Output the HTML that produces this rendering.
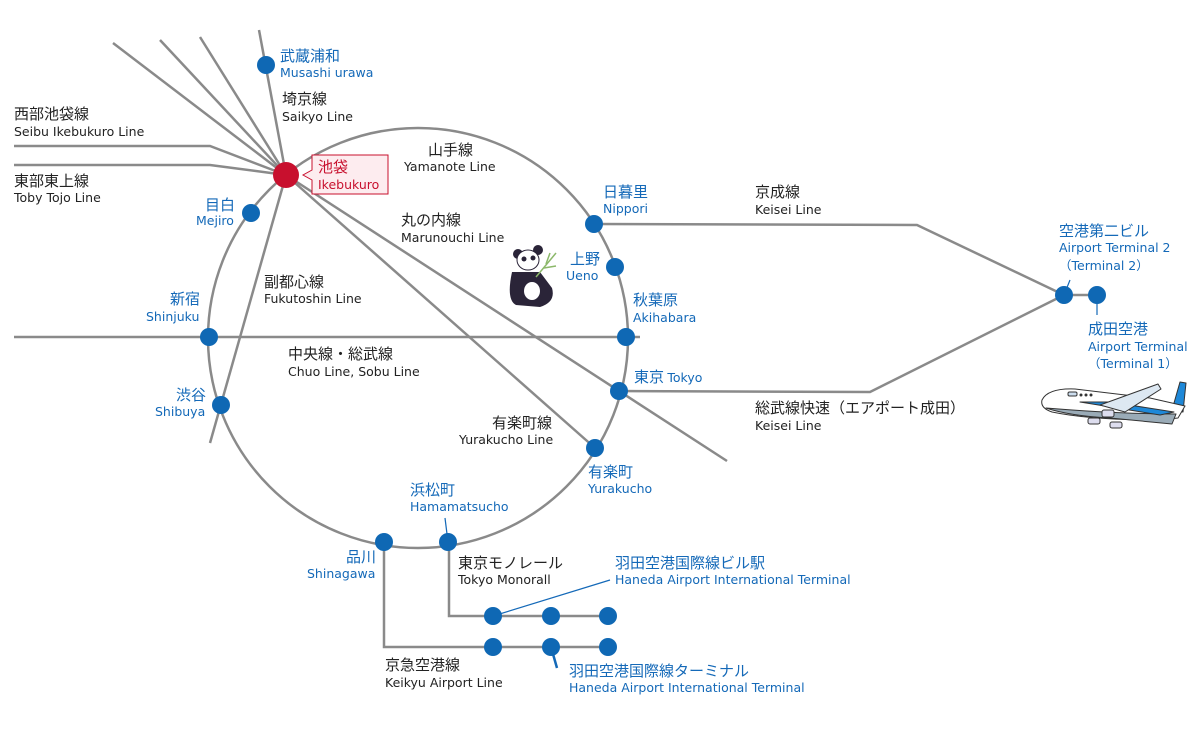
<!DOCTYPE html>
<html><head><meta charset="utf-8"><style>
body{margin:0;background:#fff}
svg text{font-family:"DejaVu Sans","Noto Sans CJK JP",sans-serif}
.j{font-size:15px;fill:#222;font-family:"Noto Sans CJK JP",sans-serif}.e{font-size:12.5px;fill:#222}
.bj{font-size:15px;fill:#1469b8;font-family:"Noto Sans CJK JP",sans-serif}.be{font-size:12.5px;fill:#1469b8}
</style></head><body>
<svg width="1201" height="741" viewBox="0 0 1201 741" xmlns="http://www.w3.org/2000/svg">
<g stroke="#8a8a8a" stroke-width="2.5" fill="none">
<circle cx="418" cy="338" r="210"/>
<line x1="286" y1="175" x2="113" y2="43"/>
<line x1="286" y1="175" x2="160" y2="40"/>
<line x1="286" y1="175" x2="200" y2="37"/>
<line x1="286" y1="175" x2="259" y2="30"/>
<polyline points="14,146 210,146 286,175"/>
<polyline points="14,165 210,165 286,175"/>
<line x1="286" y1="175" x2="210" y2="443"/>
<line x1="286" y1="175" x2="595" y2="448"/>
<line x1="286" y1="175" x2="727" y2="461"/>
<line x1="14" y1="337" x2="640" y2="337"/>
<polyline points="594,224 917,225 1064,295 1097,295"/>
<polyline points="619,391 870,392 1064,295"/>
<polyline points="384,542 384,647 608,647"/>
<polyline points="449,542 449,616 608,616"/>
</g>
<g stroke="#1469b8" stroke-width="1.2">
<line x1="493" y1="616" x2="610" y2="580"/>
<line x1="448" y1="542" x2="445" y2="518"/>
<line x1="1064" y1="295" x2="1070" y2="280"/>
<line x1="1097" y1="295" x2="1097" y2="315"/>
</g>
<line x1="551" y1="647" x2="557" y2="668" stroke="#1469b8" stroke-width="2.5"/>
<g fill="#0f68b4">
<circle cx="266" cy="65" r="9"/><circle cx="251" cy="213" r="9"/><circle cx="209" cy="337" r="9"/>
<circle cx="221" cy="405" r="9"/><circle cx="384" cy="542" r="9"/><circle cx="448" cy="542" r="9"/>
<circle cx="595" cy="448" r="9"/><circle cx="619" cy="391" r="9"/><circle cx="626" cy="337" r="9"/>
<circle cx="615" cy="267" r="9"/><circle cx="594" cy="224" r="9"/>
<circle cx="1064" cy="295" r="9"/><circle cx="1097" cy="295" r="9"/>
<circle cx="493" cy="616" r="9"/><circle cx="551" cy="616" r="9"/><circle cx="608" cy="616" r="9"/>
<circle cx="493" cy="647" r="9"/><circle cx="551" cy="647" r="9"/><circle cx="608" cy="647" r="9"/>
</g>
<circle cx="286" cy="175" r="13" fill="#c8102e"/>
<path d="M312 155 H388 V194 H312 V180 L303 175 L312 170 Z" fill="#fdecef" stroke="#c8102e" stroke-width="1"/>
<text x="318" y="172" style="font-size:15px;fill:#c8102e;font-family:'Noto Sans CJK JP',sans-serif">池袋</text>
<text x="318" y="189" style="font-size:12.5px;fill:#c8102e">Ikebukuro</text>

<text class="bj" x="280" y="61">武蔵浦和</text><text class="be" x="280" y="77">Musashi urawa</text>
<text class="j" x="282" y="104">埼京線</text><text class="e" x="282" y="121">Saikyo Line</text>
<text class="j" x="14" y="119">西部池袋線</text><text class="e" x="14" y="136">Seibu Ikebukuro Line</text>
<text class="j" x="14" y="186">東部東上線</text><text class="e" x="14" y="202">Toby Tojo Line</text>
<text class="bj" x="205" y="210">目白</text><text class="be" x="196" y="225">Mejiro</text>
<text class="j" x="428" y="155">山手線</text><text class="e" x="404" y="171">Yamanote Line</text>
<text class="j" x="401" y="225">丸の内線</text><text class="e" x="401" y="242">Marunouchi Line</text>
<text class="j" x="264" y="287">副都心線</text><text class="e" x="264" y="303">Fukutoshin Line</text>
<text class="bj" x="170" y="304">新宿</text><text class="be" x="146" y="321">Shinjuku</text>
<text class="j" x="288" y="359">中央線・総武線</text><text class="e" x="288" y="376">Chuo Line, Sobu Line</text>
<text class="bj" x="176" y="400">渋谷</text><text class="be" x="155" y="416">Shibuya</text>
<text class="j" x="492" y="428">有楽町線</text><text class="e" x="459" y="444">Yurakucho Line</text>
<text class="bj" x="588" y="477">有楽町</text><text class="be" x="588" y="493">Yurakucho</text>
<text class="bj" x="410" y="495">浜松町</text><text class="be" x="410" y="511">Hamamatsucho</text>
<text class="bj" x="346" y="562">品川</text><text class="be" x="307" y="578">Shinagawa</text>
<text class="j" x="458" y="568">東京モノレール</text><text class="e" x="458" y="584">Tokyo Monorall</text>
<text class="bj" x="615" y="568">羽田空港国際線ビル駅</text><text class="be" x="615" y="584">Haneda Airport International Terminal</text>
<text class="j" x="385" y="670">京急空港線</text><text class="e" x="385" y="687">Keikyu Airport Line</text>
<text class="bj" x="569" y="676">羽田空港国際線ターミナル</text><text class="be" x="569" y="692">Haneda Airport International Terminal</text>
<text class="bj" x="603" y="197">日暮里</text><text class="be" x="603" y="213">Nippori</text>
<text class="bj" x="570" y="264">上野</text><text class="be" x="566" y="280">Ueno</text>
<text class="bj" x="633" y="305">秋葉原</text><text class="be" x="633" y="322">Akihabara</text>
<text class="bj" x="634" y="382">東京 <tspan style="font-size:12.5px;font-family:'DejaVu Sans',sans-serif">Tokyo</tspan></text>
<text class="j" x="755" y="197">京成線</text><text class="e" x="755" y="214">Keisei Line</text>
<text class="j" x="755" y="413">総武線快速（エアポート成田）</text><text class="e" x="755" y="430">Keisei Line</text>
<text class="bj" x="1059" y="236">空港第二ビル</text><text class="be" x="1059" y="252">Airport Terminal 2</text><text class="be" x="1059" y="270">（Terminal 2）</text>
<text class="bj" x="1088" y="334">成田空港</text><text class="be" x="1088" y="351">Airport Terminal</text><text class="be" x="1088" y="368">（Terminal 1）</text>

<!-- panda -->
<g fill="#2a2438">
<circle cx="518" cy="254" r="5"/><circle cx="538" cy="250" r="5"/>
<path d="M512 272 Q506 300 516 305 L540 307 Q556 302 552 288 L540 272 Z"/>
</g>
<ellipse cx="528" cy="260" rx="11" ry="10" fill="#fff" stroke="#2a2438" stroke-width="1"/>
<circle cx="524" cy="259" r="2.5" fill="#2a2438"/><circle cx="533" cy="258" r="2.5" fill="#2a2438"/>
<ellipse cx="532" cy="291" rx="8" ry="9" fill="#fff"/>
<g stroke="#8cb86a" stroke-width="1.5"><line x1="536" y1="277" x2="556" y2="253"/><line x1="544" y1="268" x2="556" y2="266"/><line x1="546" y1="264" x2="550" y2="253"/></g>
<!-- plane -->
<g stroke="#333" stroke-width="1" stroke-linejoin="round">
<path d="M1172 410 L1180 382 L1186 383 L1183 412 Z" fill="#1e88d8"/>
<path d="M1042 400 Q1048 388 1075 389 L1150 398 L1185 406 L1178 418 L1160 420 Q1090 420 1052 412 Q1040 408 1042 400 Z" fill="#fff"/>
<path d="M1046 408 Q1070 416 1110 418 L1172 424 L1176 414 Q1120 414 1046 408 Z" fill="#9aabb7"/>
<path d="M1080 402 L1160 415 L1174 412 L1110 402 Z" fill="#1e88d8"/>
<path d="M1100 405 L1158 384 L1161 389 L1125 412 Z" fill="#dde8f2"/>
<rect x="1068" y="392" width="9" height="4" rx="1.5" fill="#cde"/>
<rect x="1102" y="410" width="12" height="7" rx="2" fill="#dde"/><rect x="1088" y="418" width="12" height="6" rx="2" fill="#dde"/><rect x="1110" y="422" width="12" height="6" rx="2" fill="#dde"/>
</g>
<g fill="#333"><circle cx="1081" cy="395" r="1.5"/><circle cx="1086" cy="395" r="1.5"/><circle cx="1091" cy="395" r="1.5"/><circle cx="1088" cy="396" r="0"/></g>
</svg>
</body></html>
